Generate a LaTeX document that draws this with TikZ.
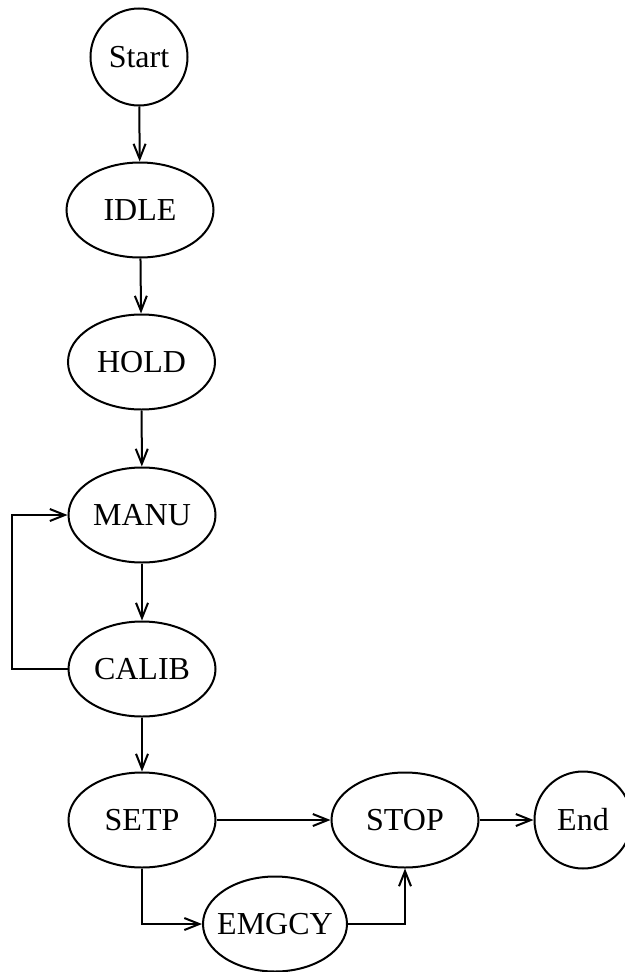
\documentclass[tikz,border=0pt]{standalone}
\usepackage{fontspec}
\setmainfont{Liberation Serif}
\usetikzlibrary{shapes.geometric,arrows.meta}
\newcommand\zb[1]{\makebox[0pt]{#1}}
\begin{document}
\begin{tikzpicture}[x=1pt,y=-1pt,
  every node/.style={font=\fontsize{32}{38}\selectfont, inner sep=0pt, line width=2pt, draw},
  st/.style={ellipse, minimum width=147pt, minimum height=95pt},
  term/.style={circle, minimum size=97pt},
  arr/.style={line width=2pt, -{Straight Barb[length=15pt,width=12pt,line width=2pt]}}]
\useasboundingbox (0,0) rectangle (624,972);
\node[term] (Start) at (139,57) {\zb{Start}};
\node[st] (IDLE) at (140,210) {\zb{IDLE}};
\node[st] (HOLD) at (141.5,362) {\zb{HOLD}};
\node[st] (MANU) at (142,515) {\zb{MANU}};
\node[st] (CALIB) at (142,669) {\zb{CALIB}};
\node[st] (SETP) at (142,820) {\zb{SETP}};
\node[st] (STOP) at (405,820) {\zb{STOP}};
\node[term] (End) at (583,820) {\zb{End}};
\node[st, minimum width=144pt] (EMGCY) at (275,924) {\zb{EMGCY}};
\coordinate (lb) at (12,669);
\coordinate (lt) at (12,515);
\draw[arr] (Start) -- (IDLE);
\draw[arr] (IDLE) -- (HOLD);
\draw[arr] (HOLD) -- (MANU);
\draw[arr] (MANU) -- (CALIB);
\draw[arr] (CALIB) -- (SETP);
\draw[arr] (CALIB.west) -- (lb) -- (lt) -- (MANU.west);
\draw[arr] (SETP) -- (STOP);
\draw[arr] (STOP) -- (End);
\draw[arr] (SETP.south) |- (EMGCY.west);
\draw[arr] (EMGCY.east) -| (STOP.south);
\end{tikzpicture}
\end{document}
